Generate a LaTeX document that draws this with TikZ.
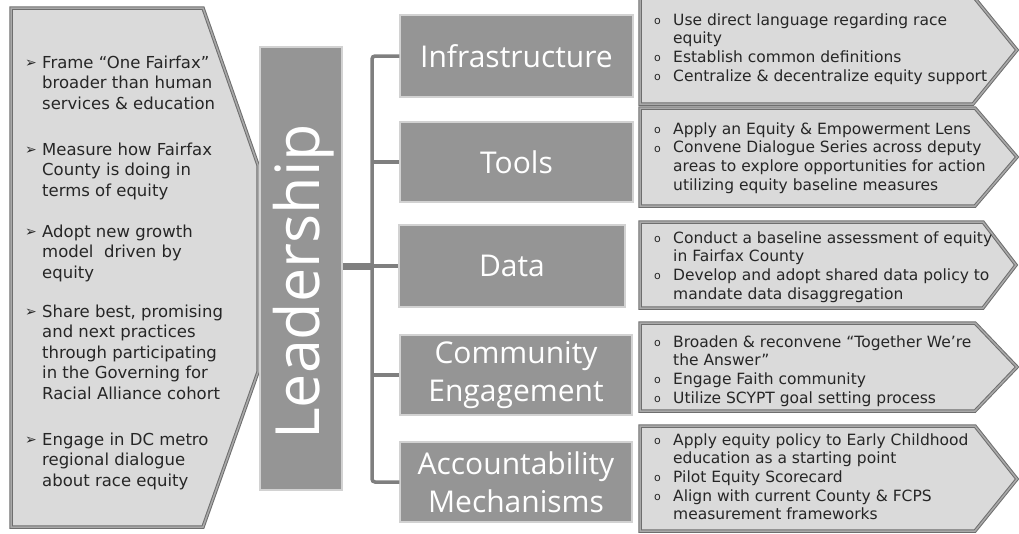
\documentclass[tikz,border=0pt]{standalone}
\usepackage{fontspec}
\setmainfont{DejaVu Sans}
\newfontfamily\titlefont{Open Sans}
\definecolor{lightfill}{HTML}{DADADA}
\definecolor{midfill}{HTML}{959595}
\definecolor{edgedark}{HTML}{6E6E6E}
\definecolor{edgemid}{HTML}{A9A9A9}
\definecolor{boxedge}{HTML}{D2D2D2}
\definecolor{connc}{HTML}{7F7F7F}
\newcommand\lbul{\makebox[17pt][l]{\raisebox{0.5pt}{\fontsize{14}{14}\selectfont ➢}}}
\newcommand\rbul{\makebox[19pt][l]{\raisebox{0.5pt}{\fontsize{11}{11}\selectfont o}}}
\tikzset{
  panel/.style={fill=lightfill, draw=edgedark, line width=1pt, double=edgemid, double distance=1.5pt, line join=miter},
  titlebox/.style={fill=midfill, draw=boxedge, line width=1.5pt, text=white,
    font=\titlefont\fontsize{30}{38}\selectfont, align=center, inner sep=0pt},
  conn/.style={draw=connc, line width=3.5pt},
  stub/.style={draw=connc, line width=7pt},
  lefttext/.style={anchor=base west, inner sep=0pt, font=\fontsize{16.5}{20.5}\selectfont, text=black!85},
  righttext/.style={anchor=base west, inner sep=0pt, font=\fontsize{15.5}{18.7}\selectfont, text=black!85},
}
\begin{document}
\begin{tikzpicture}[x=1pt,y=-1pt]
\useasboundingbox (0,0) rectangle (1019,533);
% left panel
\path[panel] (11,8) -- (203,8) -- (258,165) -- (258,372) -- (203,527) -- (11,527) -- cycle;
\node[lefttext] (l1) at (25,68) {\begin{tabular}[t]{@{}l@{}l@{}}\lbul & Frame “One Fairfax”\\ & broader than human\\ & services \& education\end{tabular}};
\node[lefttext] (l2) at (25,155) {\begin{tabular}[t]{@{}l@{}l@{}}\lbul & Measure how Fairfax\\ & County is doing in\\ & terms of equity\end{tabular}};
\node[lefttext] (l3) at (25,237) {\begin{tabular}[t]{@{}l@{}l@{}}\lbul & Adopt new growth\\ & model\ \ driven by\\ & equity\end{tabular}};
\node[lefttext] (l4) at (25,317) {\begin{tabular}[t]{@{}l@{}l@{}}\lbul & Share best, promising\\ & and next practices\\ & through participating\\ & in the Governing for\\ & Racial Alliance cohort\end{tabular}};
\node[lefttext] (l5) at (25,445) {\begin{tabular}[t]{@{}l@{}l@{}}\lbul & Engage in DC metro\\ & regional dialogue\\ & about race equity\end{tabular}};
% leadership
\node[fill=midfill, draw=boxedge, line width=1.5pt, minimum width=82pt, minimum height=443pt, inner sep=0pt] (lead) at (301,268.5) {};
\node[rotate=90, anchor=base, inner sep=0pt, text=white, font=\titlefont\fontsize{61}{63}\selectfont] (leadtxt) at (319,282) {Leadership};
% category boxes
\node[titlebox, minimum width=233pt, minimum height=82pt] (infra) at (516.5,56) {Infrastructure};
\node[titlebox, minimum width=233pt, minimum height=80pt] (tools) at (516.5,162) {Tools};
\node[titlebox, minimum width=226pt, minimum height=82pt] (data) at (512,266) {Data};
\node[titlebox, minimum width=232pt, minimum height=80pt] (comm) at (516,375) {Community\\Engagement};
\node[titlebox, minimum width=232pt, minimum height=80pt] (acc) at (516,482) {Accountability\\Mechanisms};
% connectors
\coordinate (bus) at (372,0);
\draw[conn, rounded corners=3pt] (infra.west) -- (bus |- infra.west) -- (bus |- acc.west) -- (acc.west);
\draw[conn] (bus |- tools.west) -- (tools.west);
\draw[conn] (bus |- data.west) -- (data.west);
\draw[conn] (bus |- comm.west) -- (comm.west);
\draw[stub] (lead.east |- data.west) -- (bus |- data.west);
% right arrows
\path[panel] (640,-4) -- (973,-4) -- (1017,50) -- (973,104) -- (640,104) -- cycle;
\path[panel] (640,108) -- (975,108) -- (1017,157) -- (975,206) -- (640,206) -- cycle;
\path[panel] (640,222) -- (983,222) -- (1016,265) -- (983,308) -- (640,308) -- cycle;
\path[panel] (640,323) -- (975,323) -- (1017,367) -- (975,411) -- (640,411) -- cycle;
\path[panel] (640,426) -- (975,426) -- (1017,479) -- (975,531) -- (640,531) -- cycle;
\node[righttext] (r1) at (654,25) {\begin{tabular}[t]{@{}l@{}l@{}}\rbul & Use direct language regarding race\\ & equity\\ \rbul & Establish common definitions\\ \rbul & Centralize \& decentralize equity support\end{tabular}};
\node[righttext] (r2) at (654,134) {\begin{tabular}[t]{@{}l@{}l@{}}\rbul & Apply an Equity \& Empowerment Lens\\ \rbul & Convene Dialogue Series across deputy\\ & areas to explore opportunities for action\\ & utilizing equity baseline measures\end{tabular}};
\node[righttext] (r3) at (654,243) {\begin{tabular}[t]{@{}l@{}l@{}}\rbul & Conduct a baseline assessment of equity\\ & in Fairfax County\\ \rbul & Develop and adopt shared data policy to\\ & mandate data disaggregation\end{tabular}};
\node[righttext] (r4) at (654,347) {\begin{tabular}[t]{@{}l@{}l@{}}\rbul & Broaden \& reconvene “Together We’re\\ & the Answer”\\ \rbul & Engage Faith community\\ \rbul & Utilize SCYPT goal setting process\end{tabular}};
\node[righttext] (r5) at (654,445) {\begin{tabular}[t]{@{}l@{}l@{}}\rbul & Apply equity policy to Early Childhood\\ & education as a starting point\\ \rbul & Pilot Equity Scorecard\\ \rbul & Align with current County \& FCPS\\ & measurement frameworks\end{tabular}};
\end{tikzpicture}
\end{document}
